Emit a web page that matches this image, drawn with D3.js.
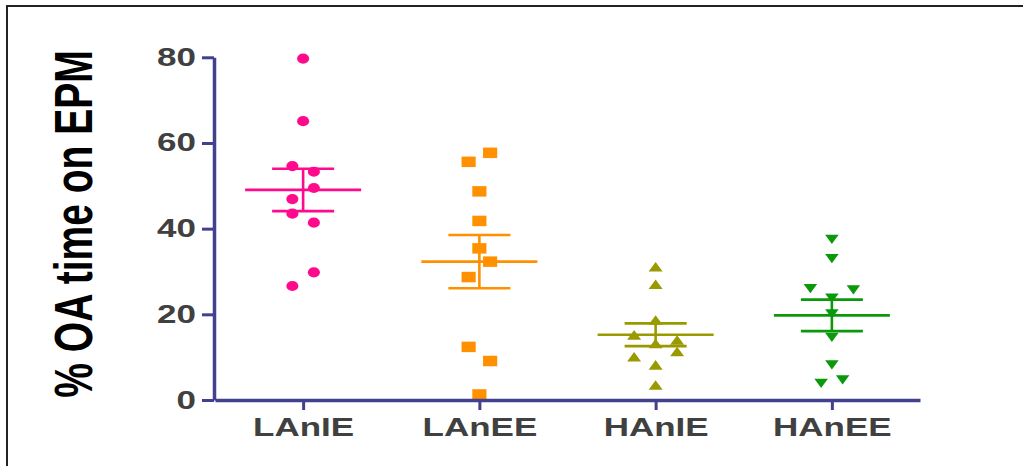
<!DOCTYPE html>
<html>
<head>
<meta charset="utf-8">
<script src="https://cdn.jsdelivr.net/npm/d3@7"></script>
<style>
  body { margin: 0; background: #fff; }
  svg { display: block; }
</style>
</head>
<body>
<div id="chart"></div>
<script>
// groups and tick labels
const groups = ["LAnIE", "LAnEE", "HAnIE", "HAnEE"];
const yTicks = [0, 20, 40, 60, 80];

// % open arm time per animal
const lanIE = [79.7, 65.1, 54.6, 53.3, 49.5, 46.9, 43.5, 41.4, 29.8, 26.6];
const lanEE = [57.7, 55.6, 48.7, 41.8, 35.4, 32.3, 28.7, 12.4, 9.1, 1.3];
const hanIE = [31.1, 27.0, 18.7, 15.2, 14.0, 13.2, 11.3, 10.1, 8.2, 3.5];
const hanEE = [37.5, 33.0, 26.0, 25.7, 23.8, 20.1, 14.6, 8.2, 4.7, 3.9];

const seriesValues = [lanIE, lanEE, hanIE, hanEE];
const colors = ["#ff0a8c", "#ff9100", "#999900", "#0a990a"];

const W = 1023, H = 466;
const axisColor = "#41418f";
const font = "'Liberation Sans', Arial, Helvetica, sans-serif";
const stretch = 1.4;   // the picture is a bit wider than tall

// bbox-centred triangles, like the prism symbols
const triUp = {
  draw(ctx, size) {
    const w = Math.sqrt(size), h = w * 0.9;
    ctx.moveTo(0, -h / 2); ctx.lineTo(w / 2, h / 2); ctx.lineTo(-w / 2, h / 2); ctx.closePath();
  }
};
const triDown = {
  draw(ctx, size) {
    const w = Math.sqrt(size), h = w * 0.9;
    ctx.moveTo(0, h / 2); ctx.lineTo(w / 2, -h / 2); ctx.lineTo(-w / 2, -h / 2); ctx.closePath();
  }
};
const symbols = [
  d3.symbol(d3.symbolCircle, 80),
  d3.symbol(d3.symbolSquare, 110),
  d3.symbol(triUp, 112),
  d3.symbol(triDown, 105)
];
const symbolStretch = [1.2, 1.35, 1.32, 1.32];

// scatter lanes: points within `tol` of the row's lowest value share a row,
// rows spread symmetric round the centre, alternating direction per row
function lanes(values, tol) {
  const order = d3.range(values.length).sort((a, b) => values[a] - values[b]);
  const out = new Array(values.length).fill(0);
  let row = [], k = 0;
  const flush = () => {
    if (!row.length) return;
    k++;
    const n = row.length;
    let pat = [];
    if (n % 2) { pat = [0]; for (let j = 1; pat.length < n; j++) pat.push(j, -j); }
    else { for (let j = 0.5; pat.length < n; j++) pat.push(-j, j); }
    const s = k % 2 ? 1 : -1;
    row.forEach((idx, i) => out[idx] = s * pat[i]);
    row = [];
  };
  order.forEach(i => {
    if (row.length && values[i] - values[row[0]] >= tol) flush();
    row.push(i);
  });
  flush();
  return out;
}

const svg = d3.select("#chart").append("svg")
  .attr("width", W)
  .attr("height", H);

// frame
svg.append("path")
  .attr("d", "M7,470V6H1030")
  .attr("fill", "none")
  .attr("stroke", "#222")
  .attr("stroke-width", 2);

const x = d3.scalePoint()
  .domain(groups)
  .range([215, 920])
  .padding(0.5);

const y = d3.scaleLinear()
  .domain([0, 80])
  .range([400, 57.3]);

const laneStep = 21.5;

// points
seriesValues.forEach((vals, gi) => {
  const ln = lanes(vals, 3.65);
  const cx = x(groups[gi]);
  svg.append("g")
    .selectAll("path")
    .data(vals)
    .join("path")
    .attr("d", symbols[gi])
    .attr("transform", (d, i) => `translate(${cx + ln[i] * laneStep},${y(d)}) scale(${symbolStretch[gi]},1)`)
    .attr("fill", colors[gi]);
});

// mean and SEM
seriesValues.forEach((vals, gi) => {
  const m = d3.mean(vals);
  const sem = d3.deviation(vals) / Math.sqrt(vals.length);
  const cx = x(groups[gi]);
  const g = svg.append("g")
    .attr("stroke", colors[gi])
    .attr("stroke-width", 2.6);
  g.append("line")
    .attr("x1", cx - 58).attr("x2", cx + 58)
    .attr("y1", y(m)).attr("y2", y(m));
  g.append("line")
    .attr("x1", cx).attr("x2", cx)
    .attr("y1", y(m + sem)).attr("y2", y(m - sem));
  [m + sem, m - sem].forEach(v => {
    g.append("line")
      .attr("x1", cx - 31).attr("x2", cx + 31)
      .attr("y1", y(v)).attr("y2", y(v));
  });
});

// axes
const yAxis = svg.append("g")
  .attr("transform", "translate(214,0)")
  .call(d3.axisLeft(y).tickValues(yTicks).tickSize(12).tickSizeOuter(0).tickPadding(5));

const xAxis = svg.append("g")
  .attr("transform", "translate(0,400)")
  .call(d3.axisBottom(x).tickSize(10).tickSizeOuter(0).tickPadding(8));

[yAxis, xAxis].forEach(a => {
  a.select(".domain").attr("stroke", axisColor).attr("stroke-width", 3.5);
  a.selectAll(".tick line").attr("stroke", axisColor).attr("stroke-width", 3);
  a.selectAll("text")
    .attr("fill", "#404040")
    .style("font-family", font)
    .style("font-weight", "bold")
    .style("font-size", "25px");
});

yAxis.selectAll("text")
  .attr("x", -18 / stretch)
  .attr("transform", `scale(${stretch},1)`);
xAxis.selectAll("text")
  .attr("transform", `scale(${stretch},1)`)
  .each(function () {
    const t = d3.select(this);
    t.attr("x", 0);
  });

// y title
svg.append("text")
  .attr("transform", "translate(92,224) scale(1.36,1) rotate(-90)")
  .attr("text-anchor", "middle")
  .style("font-family", font)
  .style("font-weight", "bold")
  .style("font-size", "39px")
  .attr("fill", "#000")
  .text("% OA time on EPM");
</script>
</body>
</html>
